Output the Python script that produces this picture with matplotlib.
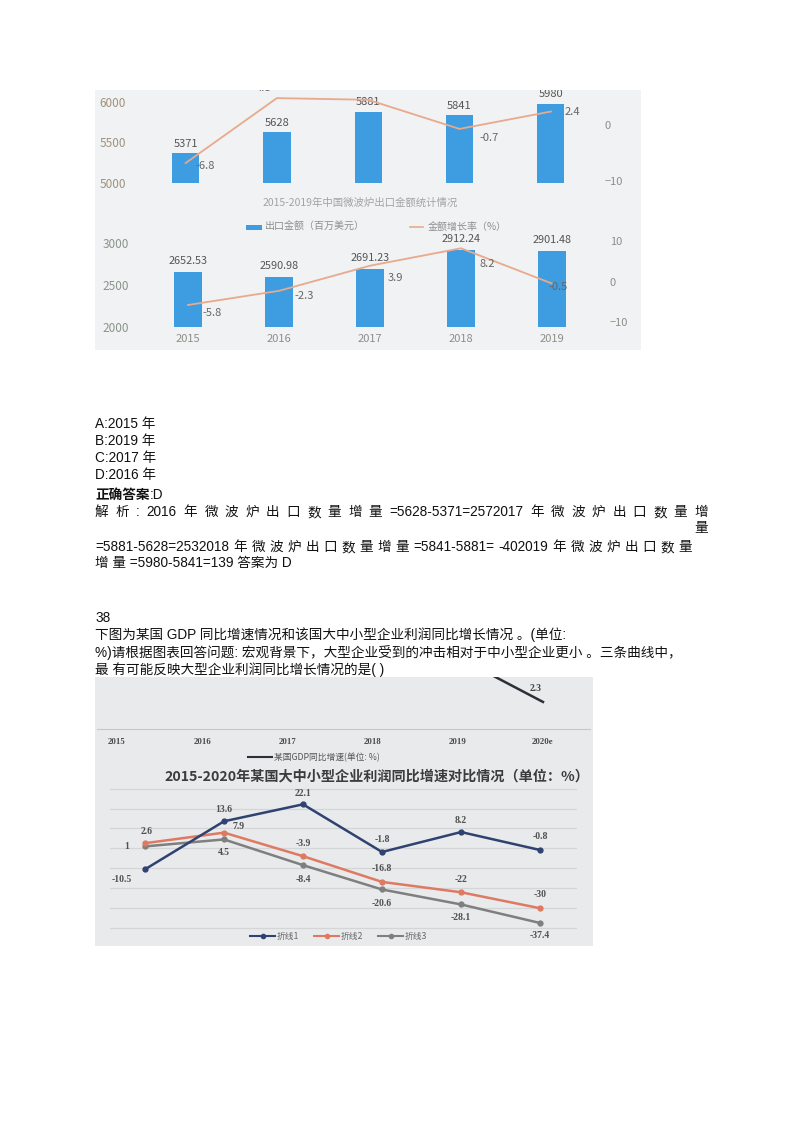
import matplotlib
matplotlib.use('Agg')
import matplotlib.pyplot as plt
from matplotlib.patches import Rectangle
from matplotlib.lines import Line2D

W, H = 800, 1131

# ---- data ----
years_a = ['2015', '2016', '2017', '2018', '2019']
export_value = [5371, 5628, 5881, 5841, 5980]          # upper chart bars
value_growth = [-6.8, 4.8, 4.5, -0.7, 2.4]             # upper chart line
export_value_b = [2652.53, 2590.98, 2691.23, 2912.24, 2901.48]
value_growth_b = [-5.8, -2.3, 3.9, 8.2, -0.5]

years_c = ['2015', '2016', '2017', '2018', '2019', '2020e']
gdp_years = ['2019', '2020e']      # only the last segment is inside the crop
gdp_growth = [6.1, 2.3]
line1 = [-10.5, 13.6, 22.1, -1.8, 8.2, -0.8]
line2 = [2.6, 7.9, -3.9, -16.8, -22, -30]
line3 = [1, 4.5, -8.4, -20.6, -28.1, -37.4]
line_names = ['折线1', '折线2', '折线3']

plt.rcParams['font.family'] = ['Noto Sans CJK SC', 'DejaVu Sans']
body_font = ['Liberation Sans', 'Noto Sans CJK SC']

bar_blue = '#3d9de0'
line_orange = '#e9a98c'
tick_gray = '#8e8e88'
c_colors = ['#2f4270', '#de7a62', '#7f7f7f']

fig = plt.figure(figsize=(8, 11.31), dpi=100)
fig.patch.set_facecolor('white')


def box(x0, y0, x1, y1):
    return [x0 / W, 1 - y1 / H, (x1 - x0) / W, (y1 - y0) / H]


def fx(x):
    return x / W


def fy(y):
    return 1 - y / H


def clean(ax):
    for s in ax.spines.values():
        s.set_visible(False)
    ax.patch.set_alpha(0)


def pt(px):
    return px * 72 / 100


# photo backgrounds
fig.add_artist(Rectangle((fx(95), fy(350)), 546 / W, 260 / H, transform=fig.transFigure,
                         facecolor='#f0f2f4', edgecolor='none', zorder=-5))
fig.add_artist(Rectangle((fx(95), fy(946)), 498 / W, 269 / H, transform=fig.transFigure,
                         facecolor='#e8eaec', edgecolor='none', zorder=-5))

# ---- upper bar chart ----
xa = range(len(years_a))
axA = fig.add_axes(box(139.95, 90, 596.45, 183))
clean(axA)
axA.bar(xa, export_value, width=0.30, color=bar_blue)
axA.set_xlim(-0.5, 4.5)
axA.set_ylim(5000, 6148)
axA.set_xticks([])
axA.set_yticks([5000, 5500, 6000])
axA.tick_params(axis='y', length=0, pad=10, labelsize=8.5, labelcolor='#a0927c')
for i, v in enumerate(export_value):
    axA.annotate(str(v), (i, v), xytext=(0, 3), textcoords='offset points', ha='center',
                 va='bottom', fontsize=8, color='#555555', clip_on=True)

axA2 = axA.twinx()
clean(axA2)
axA2.plot(xa, value_growth, color=line_orange, lw=1.3)
axA2.set_ylim(-10.36, 6.25)
axA2.set_yticks([-10, 0])
axA2.tick_params(axis='y', length=0, pad=6, labelsize=8, labelcolor=tick_gray)
off_a = [(10, 3, 'left'), (-13, -10, 'center'), (0, -18, 'center'), (20, 9, 'left'), (14, 0, 'left')]
for i, v in enumerate(value_growth):
    dx, dy, ha = off_a[i]
    axA2.annotate(str(v), (i, v), xytext=(pt(dx), -pt(dy)), textcoords='offset points',
                  ha=ha, va='center', fontsize=8, color='#666666', clip_on=True)

fig.text(fx(360), fy(203), '2015-2019年中国微波炉出口金额统计情况', ha='center', va='center',
         fontsize=7.5, color='#a3a3a3')
fig.add_artist(Rectangle((fx(246), fy(229.5)), 16 / W, 5 / H, transform=fig.transFigure,
                         facecolor=bar_blue, edgecolor='none'))
fig.text(fx(265), fy(227), '出口金额（百万美元）', ha='left', va='center', fontsize=7.2, color='#8e8e8e')
fig.add_artist(Line2D([fx(410), fx(423)], [fy(227), fy(227)], transform=fig.transFigure,
                      color=line_orange, lw=1.2))
fig.text(fx(428), fy(227), '金额增长率（%）', ha='left', va='center', fontsize=7.2, color='#8e8e8e')

# ---- lower bar chart ----
axB = fig.add_axes(box(142.5, 215, 597.5, 327))
clean(axB)
axB.bar(xa, export_value_b, width=0.30, color=bar_blue)
axB.set_xlim(-0.5, 4.5)
axB.set_ylim(2000, 3333)
axB.set_xticks(list(xa))
axB.set_xticklabels(years_a)
axB.set_yticks([2000, 2500, 3000])
axB.tick_params(axis='y', length=0, pad=10, labelsize=8.5, labelcolor='#8a9488')
axB.tick_params(axis='x', length=0, pad=5, labelsize=8, labelcolor=tick_gray)
for i, v in enumerate(export_value_b):
    axB.annotate(f'{v:.2f}', (i, v), xytext=(0, 4.5), textcoords='offset points', ha='center',
                 va='bottom', fontsize=7.8, color='#555555')

axB2 = axB.twinx()
clean(axB2)
axB2.plot(xa, value_growth_b, color=line_orange, lw=1.3)
axB2.set_ylim(-11.23, 16.42)
axB2.set_yticks([-10, 0, 10])
axB2.tick_params(axis='y', length=0, pad=9, labelsize=8, labelcolor=tick_gray)
off_b = [(14, 8), (15, 5), (18, 12), (18, 16), (-4, 3)]
for i, v in enumerate(value_growth_b):
    dx, dy = off_b[i]
    axB2.annotate(str(v), (i, v), xytext=(pt(dx), -pt(dy)), textcoords='offset points',
                  ha='left', va='center', fontsize=8, color='#666666')

# ---- body text (baseline sits ~5px below the visual centre of the line) ----
body = dict(fontfamily=body_font, fontsize=9.8, color='#111111', va='baseline')


def line_y(y):
    return fy(y + 5)


for yy, s in zip([423, 440, 457, 474], ['A:2015 年', 'B:2019 年', 'C:2017 年', 'D:2016 年']):
    fig.text(fx(95), line_y(yy), s, **body)

renderer = fig.canvas.get_renderer()
t_ans = fig.text(fx(95), line_y(494), '正确答案', fontweight='bold', **body)
w_ans = t_ans.get_window_extent(renderer).width
fig.text(fx(95 + w_ans), line_y(494), ':D', **body)


def justify(tokens, y, x0, x1):
    texts = [fig.text(0, line_y(y), t, ha='left', **body) for t in tokens]
    widths = [t.get_window_extent(renderer).width for t in texts]
    gap = (x1 - x0 - sum(widths)) / (len(tokens) - 1)
    x = x0
    for t, w in zip(texts, widths):
        t.set_x(fx(x))
        x += w + gap


cj = ['年', '微', '波', '炉', '出', '口', '数', '量']
justify(['解', '析', ':', '2016'] + cj + ['增', '量', '=5628-5371=2572017'] + cj + ['增'], 511, 95, 708)
fig.text(fx(708), line_y(527), '量', ha='right', **body)
justify(['=5881-5628=2532018'] + cj + ['增', '量', '=5841-5881=', '-402019'] + cj, 546, 95, 692)
fig.text(fx(95), line_y(562), '增 量 =5980-5841=139 答案为 D', **body)

fig.text(fx(95), line_y(617), '38', **body)
fig.text(fx(95), line_y(634), '下图为某国 GDP 同比增速情况和该国大中小型企业利润同比增长情况 。(单位:', **body)
fig.text(fx(95), line_y(652), '%)请根据图表回答问题: 宏观背景下，大型企业受到的冲击相对于中小型企业更小 。三条曲线中，', **body)
fig.text(fx(95), line_y(669), '最 有可能反映大型企业利润同比增长情况的是( )', **body)

# ---- GDP chart remnant at top of lower photo ----
axG = fig.add_axes(box(97, 677, 590, 729))
for k, s in axG.spines.items():
    s.set_visible(k == 'bottom')
axG.spines['bottom'].set_color('#c4c6c8')
axG.spines['bottom'].set_linewidth(0.8)
axG.patch.set_alpha(0)
xg = [years_c.index(y) for y in gdp_years]
axG.plot(xg, gdp_growth, color='#2e2e36', lw=1.8)
axG.set_xlim(-0.235, 5.552)
axG.set_ylim(0, 4.42)
axG.set_yticks([])
axG.set_xticks(range(len(years_c)))
axG.set_xticklabels(years_c, fontfamily='Liberation Serif', fontweight='bold')
axG.tick_params(axis='x', length=0, pad=6.5, labelsize=6.3, labelcolor='#4a4a4a')
axG.annotate(str(gdp_growth[-1]), (xg[-1], gdp_growth[-1]), xytext=(pt(-7), pt(13)),
             textcoords='offset points', ha='center', va='center', fontsize=7,
             fontfamily='Liberation Serif', fontweight='bold', color='#444444')
fig.add_artist(Line2D([fx(248), fx(272)], [fy(757), fy(757)], transform=fig.transFigure,
                      color='#2e2e36', lw=1.5))
fig.text(fx(274), fy(757), '某国GDP同比增速(单位: %)', ha='left', va='center', fontsize=6.3,
         color='#555555')

# ---- three line chart ----
fig.text(fx(377), fy(776), '2015-2020年某国大中小型企业利润同比增速对比情况（单位：%）', ha='center',
         va='center', fontsize=10.2, fontweight='bold', color='#3c3c3c')
axC = fig.add_axes(box(110, 780, 577, 945))
clean(axC)
xc = range(len(years_c))
axC.set_xlim(-0.443, 5.468)
axC.set_ylim(-48.44, 34.3)
axC.set_xticks([])
axC.set_yticks(range(-40, 31, 10))
axC.tick_params(length=0, labelleft=False)
axC.grid(axis='y', color='#d3d5d7', lw=0.9)
axC.set_axisbelow(True)
for vals, col in zip([line3, line2, line1], c_colors[::-1]):
    axC.plot(xc, vals, color=col, lw=1.8, marker='o', ms=3.5)

lab = dict(textcoords='offset points', ha='center', va='center', fontsize=7,
           fontfamily='Liberation Serif', fontweight='bold', color='#505050')
off1 = [(-23, 10), (0, -12), (0, -11), (0, -12), (0, -12), (0, -13)]
off2 = [(2, -11.5), (15, -6), (0, -13), (0, -13), (0, -13), (0, -14)]
off3 = [(-18, 0), (0, 13), (0, 14), (0, 14), (0, 13), (0, 13)]
for vals, offs in zip([line1, line2, line3], [off1, off2, off3]):
    for i, v in enumerate(vals):
        dx, dy = offs[i]
        axC.annotate(str(v), (i, v), xytext=(pt(dx), -pt(dy)), **lab)

for k, (name, col) in enumerate(zip(line_names, c_colors)):
    x0 = 250 + 64 * k
    fig.add_artist(Line2D([fx(x0), fx(x0 + 25)], [fy(936), fy(936)], transform=fig.transFigure,
                          color=col, lw=1.5))
    fig.add_artist(Line2D([fx(x0 + 13)], [fy(936)], transform=fig.transFigure, color=col,
                          marker='o', ms=3, lw=0))
    fig.text(fx(x0 + 27), fy(936), name, ha='left', va='center', fontsize=6.3, color='#666666')

fig.savefig('out.png', dpi=100)
